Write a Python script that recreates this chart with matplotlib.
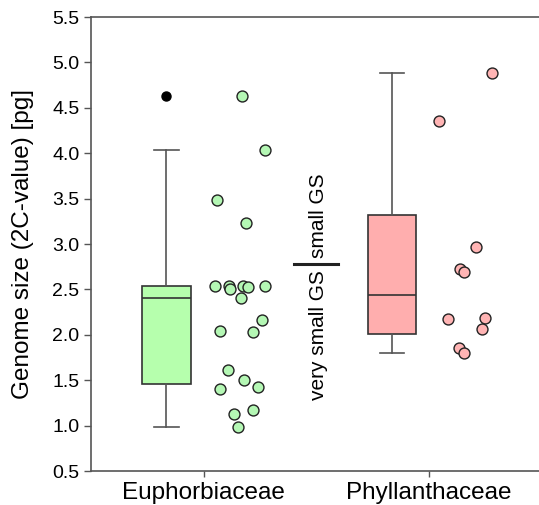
import numpy as np
import matplotlib.pyplot as plt

plt.rcParams['font.family'] = ['Liberation Sans', 'DejaVu Sans']

# Data
categories = ['Euphorbiaceae', 'Phyllanthaceae']
euph_values = [4.63, 4.04, 3.48, 3.23, 2.54, 2.54, 2.51, 2.54, 2.53, 2.54, 2.41,
               2.16, 2.04, 2.03, 1.61, 1.50, 1.40, 1.42, 1.17, 1.13, 0.99]
euph_jitter = [0.170, 0.271, 0.059, 0.190, 0.052, 0.115, 0.119, 0.174, 0.197, 0.271, 0.164,
               0.257, 0.075, 0.221, 0.110, 0.178, 0.071, 0.243, 0.221, 0.136, 0.154]
phyl_values = [4.88, 4.35, 2.97, 2.73, 2.69, 2.17, 2.19, 2.06, 1.86, 1.80]
phyl_jitter = [0.280, 0.044, 0.209, 0.136, 0.154, 0.082, 0.246, 0.235, 0.132, 0.154]
threshold = 2.78

box_colors = ['#b6ffad', '#ffaeae']
dot_colors = ['#b4f7b4', '#ffb4b4']


def box_stats(values, label):
    # quartiles the way SigmaPlot does it, Tukey whiskers
    v = np.sort(np.asarray(values))
    q1, med, q3 = np.percentile(v, [25, 50, 75], method='weibull')
    iqr = q3 - q1
    lo = v[v >= q1 - 1.5 * iqr].min()
    hi = v[v <= q3 + 1.5 * iqr].max()
    fliers = v[(v < lo) | (v > hi)]
    return dict(med=med, q1=q1, q3=q3, whislo=lo, whishi=hi, fliers=fliers, label=label)


fig = plt.figure(figsize=(5.39, 5.05), dpi=100)
ax = fig.add_axes([0.1683, 0.0673, 0.8373, 0.899])

positions = np.arange(1, len(categories) + 1)
stats = [box_stats(euph_values, categories[0]), box_stats(phyl_values, categories[1])]
bp = ax.bxp(stats, positions=positions - 0.165, widths=0.215, capwidths=0.11,
            patch_artist=True, showfliers=True,
            boxprops=dict(edgecolor='#333333', linewidth=1.2),
            medianprops=dict(color='#333333', linewidth=1.2),
            whiskerprops=dict(color='#555555', linewidth=1.2),
            capprops=dict(color='#555555', linewidth=1.2),
            flierprops=dict(marker='o', markerfacecolor='black', markeredgecolor='black',
                            markersize=6.5))
for patch, c in zip(bp['boxes'], box_colors):
    patch.set_facecolor(c)

for pos, vals, jit, c in zip(positions, [euph_values, phyl_values],
                             [euph_jitter, phyl_jitter], dot_colors):
    ax.scatter(pos + np.array(jit), vals, s=62, facecolor=c, edgecolor='#222222',
               linewidth=1.0, zorder=3)

# small / very small genome size divider
ax.plot([1.40, 1.595], [threshold, threshold], color='#222222', linewidth=2.2)
ax.text(1.51, threshold + 0.07, 'small GS', rotation=90, ha='center', va='bottom',
        fontsize=15)
ax.text(1.51, threshold - 0.07, 'very small GS', rotation=90, ha='center', va='top',
        fontsize=15)

ax.set_xlim(0.5, 2.5)
ax.set_ylim(0.5, 5.5)
ax.set_yticks(np.arange(0.5, 5.51, 0.5))
ax.set_yticklabels([f'{t:.1f}' for t in np.arange(0.5, 5.51, 0.5)])
ax.set_xticks(positions)
ax.set_xticklabels(categories, fontsize=17.5)
ax.tick_params(axis='y', labelsize=14, length=5, width=1, color='#555555', pad=3)
ax.tick_params(axis='x', length=4, width=1, color='#555555', pad=4)
ax.set_ylabel('Genome size (2C-value) [pg]', fontsize=17.5, labelpad=13)

for side in ['left', 'bottom', 'top', 'right']:
    ax.spines[side].set_color('#555555')
    ax.spines[side].set_linewidth(1.2)

fig.savefig('out.png', dpi=100)
